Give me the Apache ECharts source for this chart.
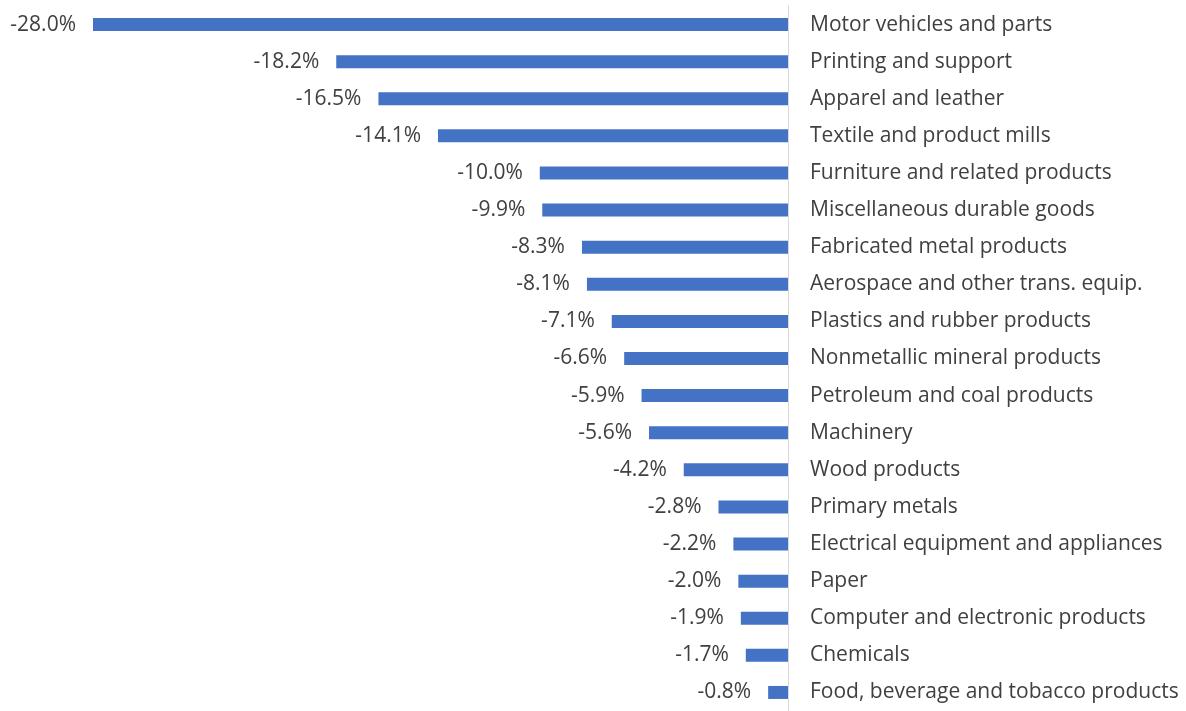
<!DOCTYPE html>
<html><head><meta charset="utf-8">
<script src="https://cdn.jsdelivr.net/npm/echarts@6/dist/echarts.min.js"></script>
<style>html,body{margin:0;padding:0;background:#fff}#c{width:1186px;height:711px}</style>
</head><body><div id="c"></div>
<script>
const categories = [
  "Motor vehicles and parts","Printing and support","Apparel and leather","Textile and product mills",
  "Furniture and related products","Miscellaneous durable goods","Fabricated metal products",
  "Aerospace and other trans. equip.","Plastics and rubber products","Nonmetallic mineral products",
  "Petroleum and coal products","Machinery","Wood products","Primary metals",
  "Electrical equipment and appliances","Paper","Computer and electronic products","Chemicals",
  "Food, beverage and tobacco products"
];
const values = [-28.0,-18.2,-16.5,-14.1,-10.0,-9.9,-8.3,-8.1,-7.1,-6.6,-5.9,-5.6,-4.2,-2.8,-2.2,-2.0,-1.9,-1.7,-0.8];

const chart = echarts.init(document.getElementById('c'));
chart.setOption({
  animation: false,
  grid: {left: 93, right: 398, top: 6, height: 708},
  xAxis: {type: 'value', min: -28, max: 0, show: false},
  yAxis: {
    type: 'category', data: categories, inverse: true, position: 'right',
    axisLine: {show: true, lineStyle: {color: '#d9d9d9', width: 1}},
    axisTick: {show: false},
    axisLabel: {margin: 22, color: '#404040', fontFamily: 'Open Sans', fontSize: 21, align: 'left'}
  },
  series: [{
    type: 'bar', data: values, barWidth: 13,
    itemStyle: {color: '#4472C4'},
    label: {show: true, position: 'left', distance: 17, color: '#404040', fontFamily: 'Open Sans', fontSize: 21,
      formatter: p => p.value.toFixed(1) + '%'}
  }]
});
</script></body></html>
